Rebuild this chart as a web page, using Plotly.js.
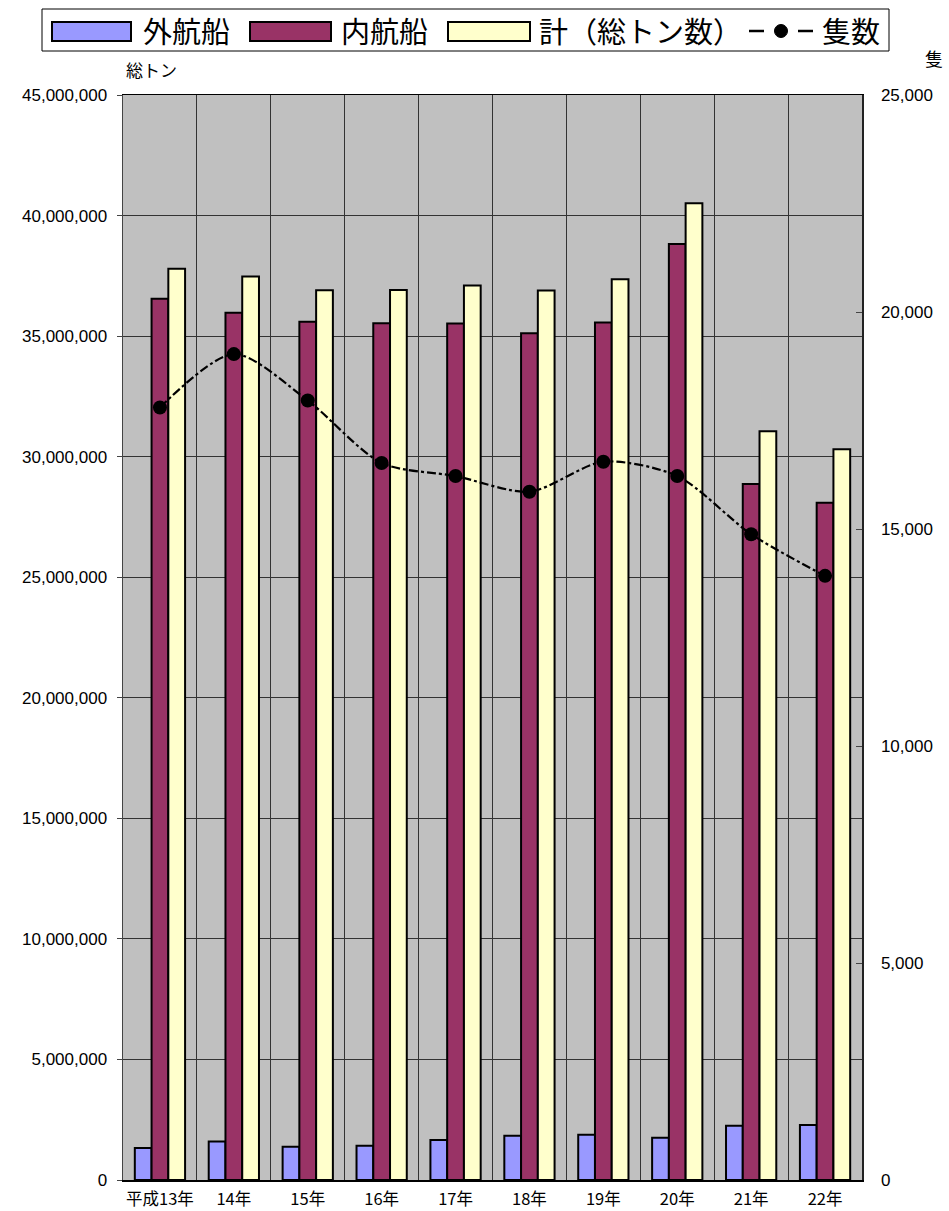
<!DOCTYPE html>
<html>
<head>
<meta charset="utf-8">
<script src="https://cdn.plot.ly/plotly-3.0.1.min.js"></script>
<style>html,body{margin:0;padding:0;background:#fff;}#chart{width:949px;height:1211px;}</style>
</head>
<body>
<div id="chart"></div>
<script>
const categories = ["平成13年","14年","15年","16年","17年","18年","19年","20年","21年","22年"];
const gaikousen = [1330000,1600000,1380000,1420000,1660000,1840000,1880000,1750000,2250000,2280000];
const naikousen = [36550000,35970000,35600000,35530000,35520000,35120000,35560000,38820000,28870000,28090000];
const total = [37790000,37470000,36900000,36910000,37100000,36890000,37360000,40510000,31050000,30310000];
const vessels = [17800,19030,17960,16520,16220,15860,16550,16220,14880,13920];
const seriesNames = ["外航船","内航船","計（総トン数）","隻数"];
const seriesColors = ["#9999FF","#993366","#FFFFCC"];

const FONT = "'Liberation Sans', Arial, 'Noto Sans CJK JP', sans-serif";
const JFONT = "'Noto Sans CJK JP', 'Liberation Sans', sans-serif";

const W = 949, H = 1211;
const M = {l:123, r:87, t:95, b:31};
const PW = W - M.l - M.r, PH = H - M.t - M.b;
// page-pixel helpers for decorative legend (paper coordinates)
const px = v => (v - M.l) / PW;
const py = v => (H - M.b - v) / PH;

const traces = [
  {type:'bar', name:seriesNames[0], x:categories, y:gaikousen, marker:{color:seriesColors[0], line:{color:'#000', width:2}}},
  {type:'bar', name:seriesNames[1], x:categories, y:naikousen, marker:{color:seriesColors[1], line:{color:'#000', width:2}}},
  {type:'bar', name:seriesNames[2], x:categories, y:total, marker:{color:seriesColors[2], line:{color:'#000', width:2}}},
  {type:'scatter', mode:'lines+markers', name:seriesNames[3], x:categories, y:vessels, yaxis:'y2',
   line:{color:'#000', width:2.2, dash:'dashdot', shape:'spline', smoothing:0.8},
   marker:{color:'#000', size:14}}
];

// Legend (drawn as decoration to match wide swatches)
const LF = 29;
const shapes = [
  {type:'rect', xref:'paper', yref:'paper', x0:px(42), x1:px(889), y0:py(51), y1:py(9), line:{color:'#000', width:1}, fillcolor:'#fff', layer:'above'},
  {type:'rect', xref:'paper', yref:'paper', x0:px(52), x1:px(131), y0:py(41), y1:py(22), line:{color:'#000', width:2}, fillcolor:seriesColors[0], layer:'above'},
  {type:'rect', xref:'paper', yref:'paper', x0:px(250), x1:px(331), y0:py(41), y1:py(22), line:{color:'#000', width:2}, fillcolor:seriesColors[1], layer:'above'},
  {type:'rect', xref:'paper', yref:'paper', x0:px(448), x1:px(530), y0:py(41), y1:py(22), line:{color:'#000', width:2}, fillcolor:seriesColors[2], layer:'above'},
  {type:'line', xref:'paper', yref:'paper', x0:px(749), x1:px(764), y0:py(31), y1:py(31), line:{color:'#000', width:2.5}, layer:'above'},
  {type:'line', xref:'paper', yref:'paper', x0:px(798), x1:px(813), y0:py(31), y1:py(31), line:{color:'#000', width:2.5}, layer:'above'},
  {type:'circle', xref:'paper', yref:'paper', x0:px(774.5), x1:px(787.5), y0:py(37.5), y1:py(24.5), line:{color:'#000', width:1}, fillcolor:'#000', layer:'above'}
];

const annotations = [
  {text:seriesNames[0], x:px(141), y:py(30), xanchor:'left', yanchor:'middle'},
  {text:seriesNames[1], x:px(339), y:py(30), xanchor:'left', yanchor:'middle'},
  {text:seriesNames[2], x:px(537), y:py(30), xanchor:'left', yanchor:'middle'},
  {text:seriesNames[3], x:px(820), y:py(30), xanchor:'left', yanchor:'middle'}
].map(a => Object.assign(a, {xref:'paper', yref:'paper', showarrow:false, font:{family:JFONT, size:LF, color:'#000'}}));

annotations.push(
  {text:'総トン', xref:'paper', yref:'paper', x:px(151), y:py(70), xanchor:'center', yanchor:'middle', showarrow:false,
   font:{family:JFONT, size:17, color:'#000'}},
  {text:'隻', xref:'paper', yref:'paper', x:px(934), y:py(58), xanchor:'center', yanchor:'middle', showarrow:false,
   font:{family:JFONT, size:18, color:'#000'}}
);

const layout = {
  width:W, height:H,
  margin:{l:M.l, r:M.r, t:M.t, b:M.b, autoexpand:false},
  paper_bgcolor:'#fff', plot_bgcolor:'#C0C0C0',
  barmode:'group', bargap:0.32, bargroupgap:0,
  showlegend:false,
  xaxis:{type:'category', range:[-0.5, categories.length - 0.5], tickson:'boundaries', showgrid:true, gridcolor:'#333', gridwidth:1,
    showline:true, linecolor:'#000', linewidth:1.5, mirror:true, ticks:'', ticklabelstandoff:4, tickangle:0,
    tickfont:{family:JFONT, size:16.5, color:'#000'}},
  yaxis:{range:[0,45000000], dtick:5000000, tickformat:',d', showgrid:true, gridcolor:'#333', gridwidth:1,
    showline:true, linecolor:'#444', linewidth:1.5, ticks:'outside', ticklen:5, tickcolor:'#444', ticklabelstandoff:6,
    tickfont:{family:FONT, size:17, color:'#000'}, zeroline:false},
  yaxis2:{range:[0,25000], dtick:5000, tickformat:',d', overlaying:'y', side:'right', showgrid:false,
    showline:true, linecolor:'#222', linewidth:1.5, ticks:'inside', ticklen:6, tickcolor:'#444', ticklabelstandoff:14,
    tickfont:{family:FONT, size:17, color:'#000'}, zeroline:false},
  shapes:shapes,
  annotations:annotations
};

Plotly.newPlot('chart', traces, layout, {displayModeBar:false, staticPlot:true});
</script>
</body>
</html>
